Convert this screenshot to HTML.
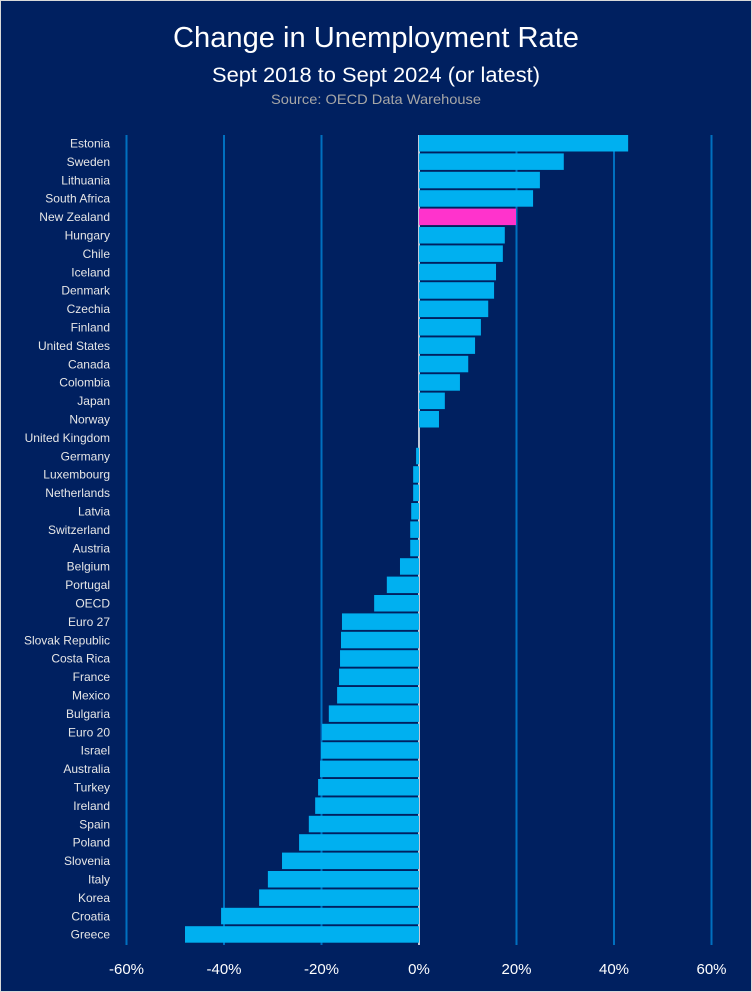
<!DOCTYPE html>
<html><head><meta charset="utf-8"><style>
html,body{margin:0;padding:0;background:#d9d9d9;}
#wrap{position:absolute;left:1px;top:1px;width:750px;height:990px;background:#002060;overflow:hidden;}
text{font-family:"Liberation Sans",sans-serif;}
</style></head><body>
<div id="wrap">
<svg id="chart" width="750" height="990" xmlns="http://www.w3.org/2000/svg">
<text x="375" y="46" text-anchor="middle" fill="#ffffff" font-size="29" textLength="406" lengthAdjust="spacingAndGlyphs">Change in Unemployment Rate</text>
<text x="375" y="81" text-anchor="middle" fill="#ffffff" font-size="21" textLength="328" lengthAdjust="spacingAndGlyphs">Sept 2018 to Sept 2024 (or latest)</text>
<text x="375" y="103" text-anchor="middle" fill="#a6a6a6" font-size="14" textLength="210" lengthAdjust="spacingAndGlyphs">Source: OECD Data Warehouse</text>
<g id="grid"></g><g id="bars"></g><g id="labels"></g><g id="ticks"></g>
</svg>
</div>
<script>
const categories=["Estonia","Sweden","Lithuania","South Africa","New Zealand","Hungary","Chile","Iceland","Denmark","Czechia","Finland","United States","Canada","Colombia","Japan","Norway","United Kingdom","Germany","Luxembourg","Netherlands","Latvia","Switzerland","Austria","Belgium","Portugal","OECD","Euro 27","Slovak Republic","Costa Rica","France","Mexico","Bulgaria","Euro 20","Israel","Australia","Turkey","Ireland","Spain","Poland","Slovenia","Italy","Korea","Croatia","Greece"];
const values=[42.9,29.7,24.8,23.4,19.9,17.6,17.2,15.8,15.4,14.2,12.7,11.5,10.1,8.4,5.3,4.1,0,-0.6,-1.2,-1.2,-1.6,-1.8,-1.8,-3.9,-6.6,-9.2,-15.8,-16,-16.2,-16.4,-16.8,-18.5,-19.9,-20.1,-20.3,-20.7,-21.3,-22.6,-24.6,-28.1,-31,-32.8,-40.6,-48];
const highlight=["New Zealand"];
const tickValues=[-60,-40,-20,0,20,40,60];
const tickLabels=["-60%","-40%","-20%","0%","20%","40%","60%"];
const NS="http://www.w3.org/2000/svg";
const x=v=>418+v*4.875;
const rowY=i=>142+i*18.4;
const grid=document.getElementById('grid'),bars=document.getElementById('bars'),labels=document.getElementById('labels'),ticks=document.getElementById('ticks');
tickValues.forEach((t,i)=>{
  const l=document.createElementNS(NS,'line');
  l.setAttribute('x1',x(t));l.setAttribute('x2',x(t));l.setAttribute('y1',134);l.setAttribute('y2',944);
  l.setAttribute('stroke',t===0?'#ffffff':'#0070c0');l.setAttribute('stroke-width',t===0?1.5:2);
  
  
  grid.appendChild(l);
  const tx=document.createElementNS(NS,'text');
  tx.setAttribute('x',x(t));tx.setAttribute('y',973);tx.setAttribute('text-anchor','middle');
  tx.setAttribute('fill','#ffffff');tx.setAttribute('font-size','15');tx.textContent=tickLabels[i];
  
  
  ticks.appendChild(tx);
});
categories.forEach((c,i)=>{
  const v=values[i];
  const r=document.createElementNS(NS,'rect');
  const x0=Math.min(x(0),x(v)),w=Math.abs(x(v)-x(0));
  r.setAttribute('x',x0);r.setAttribute('y',rowY(i)-8);r.setAttribute('width',w);r.setAttribute('height',16.5);
  r.setAttribute('fill',highlight.includes(c)?'#ff33cc':'#00b0f0');
  
  
  bars.appendChild(r);
  const t=document.createElementNS(NS,'text');
  t.setAttribute('x',109);t.setAttribute('y',rowY(i)+4.5);t.setAttribute('text-anchor','end');
  t.setAttribute('fill','#e6e6e6');t.setAttribute('font-size','12');t.textContent=c;
  
  
  labels.appendChild(t);
});
</script>
</body></html>
